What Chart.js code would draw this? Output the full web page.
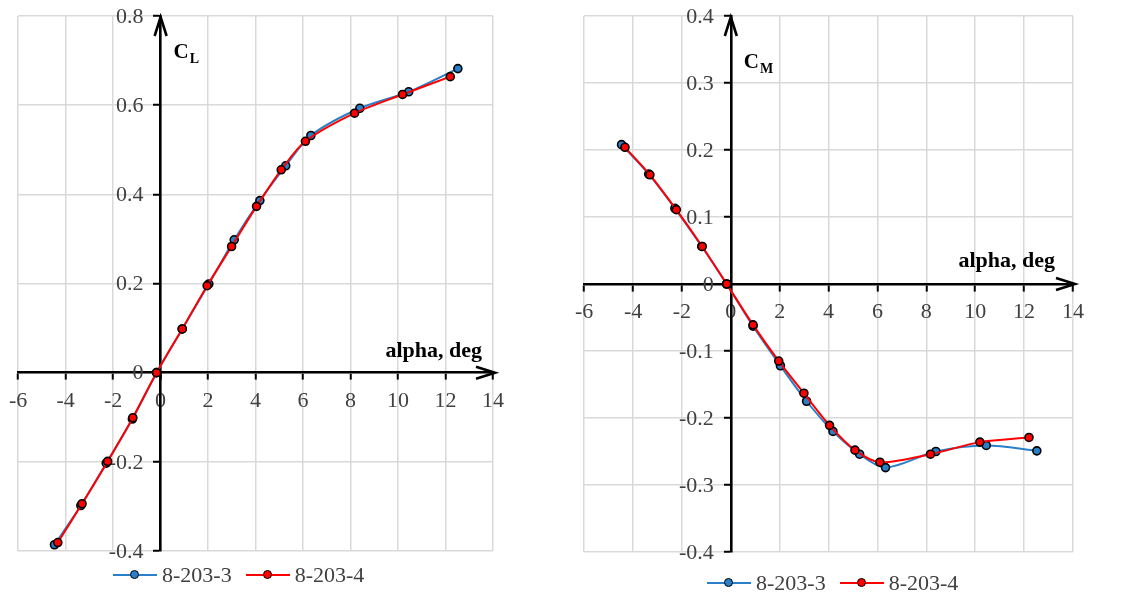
<!DOCTYPE html>
<html>
<head>
<meta charset="utf-8">
<script src="https://cdn.jsdelivr.net/npm/chart.js@4.4.1/dist/chart.umd.min.js"></script>
<style>
  body { margin: 0; background: #fff; }
  .wrap { position: relative; width: 1133px; height: 597px; overflow: hidden; }
  canvas { position: absolute; top: 0; }
  #clChart { left: 0; }
  #cmChart { left: 566px; }
  .legend { position: absolute; display: flex; align-items: center; font: 22px "Liberation Serif", serif; color: #404040; white-space: nowrap; line-height: 1; }
  .key { position: relative; display: inline-block; width: 44px; height: 2px; margin-right: 5px; }
  .key::after { content: ""; position: absolute; left: 50%; top: 50%; width: 7px; height: 7px; margin: -5px 0 0 -5px; border: 1.5px solid #000; border-radius: 50%; background: inherit; }
  .gap { display: inline-block; width: 14px; }
</style>
</head>
<body>
<div class="wrap">
  <canvas id="clChart" width="566" height="597"></canvas>
  <canvas id="cmChart" width="567" height="597"></canvas>
  <div class="legend" style="left:113px;top:564px">
    <span class="key" style="background:#2a7fc9"></span><span>8-203-3</span><span class="gap"></span>
    <span class="key" style="background:#ff0000"></span><span>8-203-4</span>
  </div>
  <div class="legend" style="left:707px;top:572px">
    <span class="key" style="background:#2a7fc9"></span><span>8-203-3</span><span class="gap"></span>
    <span class="key" style="background:#ff0000"></span><span>8-203-4</span>
  </div>
</div>
<script>
// angle of attack, deg
const alpha3 = [-4.47, -3.36, -2.29, -1.19, -0.17, 0.91, 2.03, 3.10, 4.18, 5.27, 6.33, 8.39, 10.45, 12.52];
const alpha4 = [-4.33, -3.31, -2.23, -1.17, -0.17, 0.91, 1.96, 2.99, 4.04, 5.08, 6.10, 8.17, 10.19, 12.20];

// lift coefficient
const cl3 = [-0.386, -0.298, -0.203, -0.104, 0.0, 0.098, 0.199, 0.298, 0.386, 0.464, 0.532, 0.593, 0.630, 0.682];
const cl4 = [-0.381, -0.294, -0.199, -0.101, 0.0, 0.098, 0.195, 0.283, 0.373, 0.455, 0.519, 0.582, 0.624, 0.664];

// pitching moment coefficient
const cm3 = [0.208, 0.164, 0.113, 0.056, 0.0, -0.063, -0.122, -0.175, -0.220, -0.254, -0.274, -0.250, -0.241, -0.249];
const cm4 = [0.204, 0.163, 0.111, 0.056, 0.0, -0.061, -0.115, -0.163, -0.211, -0.248, -0.266, -0.254, -0.236, -0.229];

const alphaTicks = [-6, -4, -2, 0, 2, 4, 6, 8, 10, 12, 14];
const clTicks = [-0.4, -0.2, 0, 0.2, 0.4, 0.6, 0.8];
const cmTicks = [-0.4, -0.3, -0.2, -0.1, 0, 0.1, 0.2, 0.3, 0.4];

const seriesNames = ['8-203-3', '8-203-4'];
const BLUE = '#2a7fc9';
const RED = '#ff0000';
const FONT = '"Liberation Serif", serif';
const TICK_FONT = '22px ' + FONT;

const toPoints = (xs, ys) => xs.map((v, i) => ({ x: v, y: ys[i] }));

const fmt = (v) => (Math.abs(v) < 1e-9 ? '0' : String(Math.round(v * 10) / 10));

function arrowHead(ctx, x, y, dx, dy) {
  // open arrow: two strokes back from the tip
  const len = 19, half = 6;
  const px = -dy, py = dx;
  ctx.beginPath();
  ctx.moveTo(x - dx * len + px * half, y - dy * len + py * half);
  ctx.lineTo(x, y);
  ctx.lineTo(x - dx * len - px * half, y - dy * len - py * half);
  ctx.stroke();
}

const axisDecor = {
  id: 'axisDecor',
  // y labels sit left of the crossing axis, under the curves
  beforeDatasetsDraw(chart) {
    const { ctx, scales: { x, y } } = chart;
    const x0 = x.getPixelForValue(0);
    ctx.save();
    ctx.font = TICK_FONT;
    ctx.fillStyle = '#404040';
    ctx.textAlign = 'right';
    ctx.textBaseline = 'middle';
    y.ticks.forEach(t => ctx.fillText(t.label, x0 - 17, y.getPixelForValue(t.value) + 1));
    ctx.restore();
  },
  afterDraw(chart, args, opts) {
    const { ctx, chartArea: a, scales: { x, y } } = chart;
    const x0 = x.getPixelForValue(0);
    const y0 = y.getPixelForValue(0);
    ctx.save();
    ctx.strokeStyle = '#000';
    ctx.fillStyle = '#000';
    ctx.lineWidth = 2.6;
    ctx.lineJoin = 'miter';
    arrowHead(ctx, x0, a.top + 1, 0, -1);
    arrowHead(ctx, a.right + 2, y0, 1, 0);

    // axis names
    ctx.font = 'bold 22px ' + FONT;
    ctx.textBaseline = 'alphabetic';
    ctx.textAlign = 'right';
    ctx.fillText('alpha, deg', a.right - opts.xTitleInset, y0 - opts.xTitleLift);

    ctx.textAlign = 'left';
    ctx.font = 'bold 21px ' + FONT;
    const cx = x0 + 13;
    const cy = a.top + opts.yTitleDrop;
    ctx.fillText('C', cx, cy);
    const cw = ctx.measureText('C').width;
    ctx.font = 'bold 14px ' + FONT;
    ctx.fillText(opts.sub, cx + cw + 1, cy + 5);
    ctx.restore();
  }
};

function makeChart(id, ys3, ys4, ticks, pad, decor) {
  const ctx = document.getElementById(id).getContext('2d');
  return new Chart(ctx, {
    type: 'line',
    data: {
      datasets: [
        {
          label: seriesNames[0],
          data: toPoints(alpha3, ys3),
          borderColor: BLUE,
          backgroundColor: BLUE,
          order: 1
        },
        {
          label: seriesNames[1],
          data: toPoints(alpha4, ys4),
          borderColor: RED,
          backgroundColor: RED,
          order: 0
        }
      ]
    },
    options: {
      responsive: false,
      animation: false,
      devicePixelRatio: 1,
      layout: { padding: pad },
      elements: {
        line: { borderWidth: 2, tension: 0.3 },
        point: { radius: 4, borderWidth: 1.6 }
      },
      datasets: {
        line: { pointBorderColor: '#000', pointBorderWidth: 1.6 }
      },
      plugins: {
        legend: { display: false },
        tooltip: { enabled: false },
        axisDecor: decor
      },
      scales: {
        x: {
          type: 'linear',
          position: { y: 0 },
          min: alphaTicks[0],
          max: alphaTicks[alphaTicks.length - 1],
          afterBuildTicks: (s) => { s.ticks = alphaTicks.map(v => ({ value: v })); },
          grid: { color: '#d9d9d9', lineWidth: 1.5, tickColor: '#000', tickLength: 6, tickWidth: 2 },
          border: { color: '#000', width: 2.6 },
          ticks: { color: '#404040', font: { family: FONT, size: 22 }, padding: 9, maxRotation: 0, callback: fmt }
        },
        y: {
          type: 'linear',
          position: { x: 0 },
          min: ticks[0],
          max: ticks[ticks.length - 1],
          afterBuildTicks: (s) => { s.ticks = ticks.map(v => ({ value: v })); },
          grid: { color: '#d9d9d9', lineWidth: 1.5, tickColor: '#000', tickLength: 6, tickWidth: 2 },
          border: { color: '#000', width: 2.6 },
          ticks: { display: false, callback: fmt }
        }
      }
    },
    plugins: [axisDecor]
  });
}

makeChart('clChart', cl3, cl4, clTicks,
  { left: 17, top: 16, right: 73, bottom: 46 },
  { sub: 'L', xTitleInset: 11, xTitleLift: 16, yTitleDrop: 42 });

makeChart('cmChart', cm3, cm4, cmTicks,
  { left: 18, top: 16, right: 60, bottom: 45 },
  { sub: 'M', xTitleInset: 18, xTitleLift: 17, yTitleDrop: 52 });
</script>
</body>
</html>
